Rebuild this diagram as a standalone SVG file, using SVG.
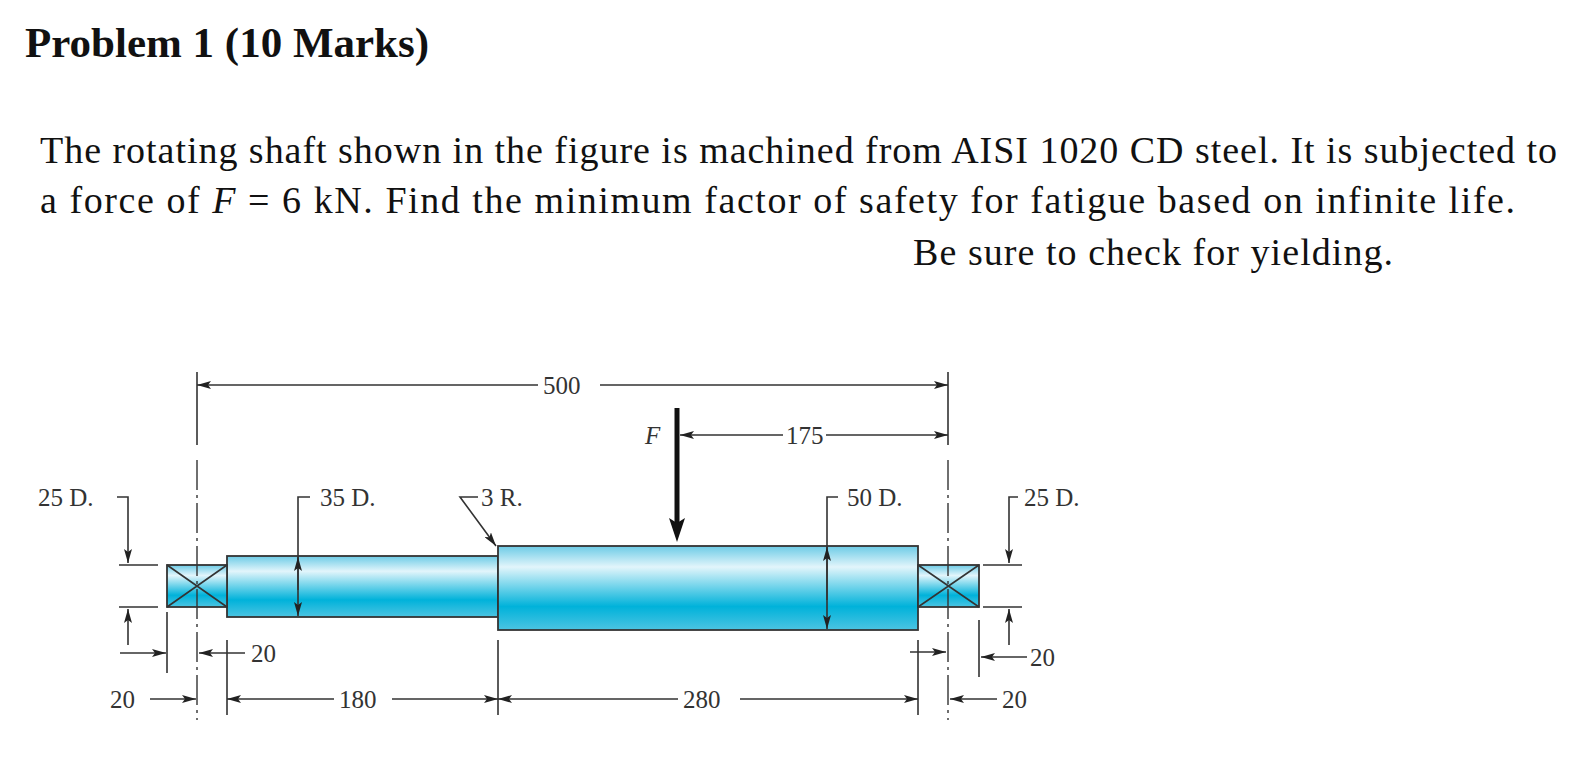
<svg xmlns="http://www.w3.org/2000/svg" width="1574" height="776" viewBox="0 0 1574 776">
<style>
.t{font-family:"Liberation Serif",serif;fill:#111}
.l{font-family:"Liberation Serif",serif;font-size:25px;fill:#333}
.k{stroke:#333;stroke-width:1.6;fill:none}
.s{stroke:#333;stroke-width:1.8}
.c{stroke:#333;stroke-width:1.4;stroke-dasharray:30 5 3 5;fill:none}
</style>
<defs>
<linearGradient id="g" x1="0" y1="0" x2="0" y2="1">
<stop offset="0" stop-color="#6ccbe6"/><stop offset="0.25" stop-color="#e2f5fb"/><stop offset="0.72" stop-color="#00b2da"/><stop offset="1" stop-color="#4cc4e2"/>
</linearGradient>
<marker id="a" markerWidth="14" markerHeight="8" refX="14" refY="4" orient="auto-start-reverse" markerUnits="userSpaceOnUse"><path d="M0,0 L14,4 L0,8 L3,4 Z" fill="#222"/></marker>
</defs>
<rect width="1574" height="776" fill="#fff"/>
<text class="t" x="25" y="57" font-size="43" font-weight="bold">Problem 1 (10 Marks)</text>
<text class="t" x="40" y="163" font-size="38" textLength="1517" lengthAdjust="spacing">The rotating shaft shown in the figure is machined from AISI 1020 CD steel. It is subjected to</text>
<text class="t" x="40" y="213" font-size="38" textLength="1475" lengthAdjust="spacing">a force of <tspan font-style="italic">F</tspan> = 6 kN. Find the minimum factor of safety for fatigue based on infinite life.</text>
<text class="t" x="913" y="265" font-size="38" textLength="480" lengthAdjust="spacing">Be sure to check for yielding.</text>
<g id="shaft35"><rect x="227" y="556" width="271" height="61" fill="url(#g)" class="s"/></g>
<g id="shaft50"><rect x="498" y="546" width="420" height="84" fill="url(#g)" class="s"/></g>
<g id="bearingL"><rect x="167" y="565" width="60" height="42" fill="url(#g)" class="s"/><path d="M167,565 L227,607 M167,607 L227,565" class="k"/></g>
<g id="bearingR"><rect x="918" y="565" width="61" height="42" fill="url(#g)" class="s"/><path d="M918,565 L979,607 M918,607 L979,565" class="k"/></g>
<g id="connectors">
<path d="M197,460 V720 M948,460 V720" class="c"/>
<path d="M197,372 V445 M948,372 V445" class="k"/>
<path d="M197,385 H538 M600,385 H948" class="k" marker-start="url(#a)" marker-end="url(#a)"/>
<path d="M680,435 H783 M826,435 H948" class="k" marker-start="url(#a)" marker-end="url(#a)"/>
<path d="M677,408 V525" stroke="#111" stroke-width="5"/>
<path d="M669,518 L677,542 L685,518 L677,523 Z" fill="#111"/>
<path d="M119,565 H158 M119,607 H158 M983,565 H1022 M983,607 H1022" class="k"/>
<path d="M117,497 H128 V563" class="k" marker-end="url(#a)"/>
<path d="M128,645 V609" class="k" marker-end="url(#a)"/>
<path d="M1018,497 H1009 V563" class="k" marker-end="url(#a)"/>
<path d="M1009,645 V609" class="k" marker-end="url(#a)"/>
<path d="M310,497 H298 V616" class="k" marker-end="url(#a)"/>
<path d="M298,590 V557" class="k" marker-end="url(#a)"/>
<path d="M838,497 H827 V629" class="k" marker-end="url(#a)"/>
<path d="M827,600 V547" class="k" marker-end="url(#a)"/>
<path d="M478,497 H460 L496,546" class="k" marker-end="url(#a)"/>
<path d="M167,612 V673 M227,640 V715 M498,640 V715 M918,640 V715 M979,620 V677" class="k"/>
<path d="M120,653 H166" class="k" marker-end="url(#a)"/>
<path d="M245,653 H199" class="k" marker-end="url(#a)"/>
<path d="M150,699 H196" class="k" marker-end="url(#a)"/>
<path d="M227,699 H334 M392,699 H498" class="k" marker-start="url(#a)" marker-end="url(#a)"/>
<path d="M498,699 H678 M740,699 H918" class="k" marker-start="url(#a)" marker-end="url(#a)"/>
<path d="M910,652 H946" class="k" marker-end="url(#a)"/>
<path d="M1027,657 H981" class="k" marker-end="url(#a)"/>
<path d="M997,699 H950" class="k" marker-end="url(#a)"/>
</g>
<g id="labels">
<text class="l" x="543" y="394">500</text>
<text class="l" x="786" y="444">175</text>
<text class="l" x="645" y="444" font-style="italic">F</text>
<text class="l" x="38" y="506">25 D.</text>
<text class="l" x="320" y="506">35 D.</text>
<text class="l" x="481" y="506">3 R.</text>
<text class="l" x="847" y="506">50 D.</text>
<text class="l" x="1024" y="506">25 D.</text>
<text class="l" x="251" y="662">20</text>
<text class="l" x="110" y="708">20</text>
<text class="l" x="339" y="708">180</text>
<text class="l" x="683" y="708">280</text>
<text class="l" x="1030" y="666">20</text>
<text class="l" x="1002" y="708">20</text>
</g>
</svg>
